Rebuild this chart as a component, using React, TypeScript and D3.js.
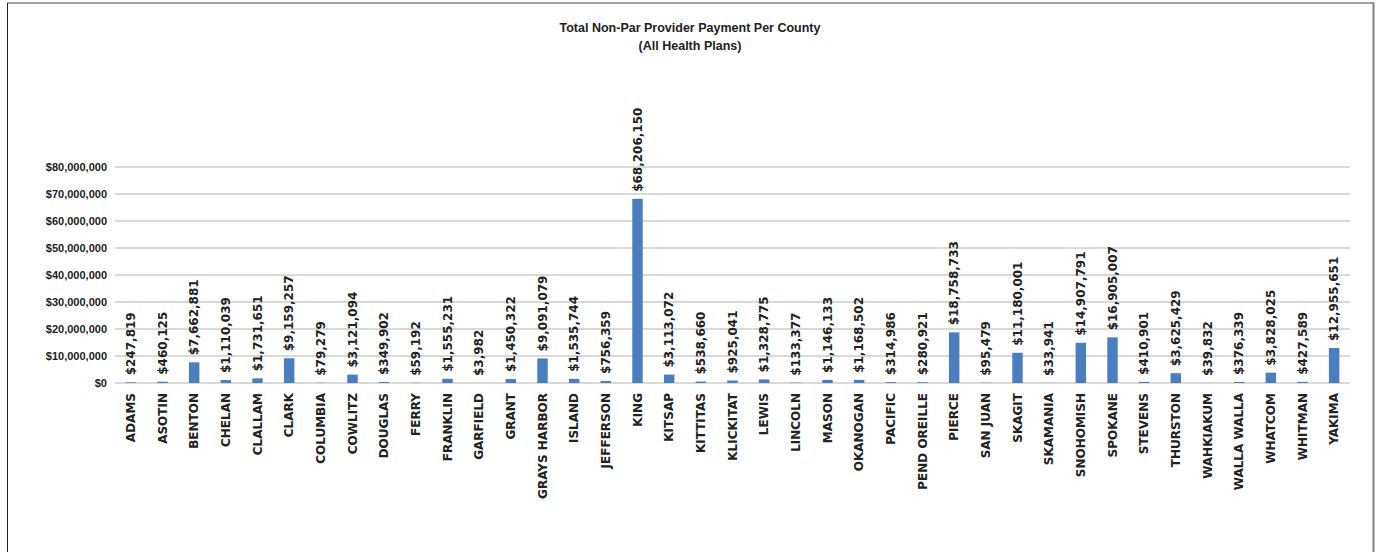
import React, { useEffect, useRef } from 'react';
import * as d3 from 'd3';

const counties = [
  'ADAMS', 'ASOTIN', 'BENTON', 'CHELAN', 'CLALLAM', 'CLARK', 'COLUMBIA', 'COWLITZ', 'DOUGLAS', 'FERRY',
  'FRANKLIN', 'GARFIELD', 'GRANT', 'GRAYS HARBOR', 'ISLAND', 'JEFFERSON', 'KING', 'KITSAP', 'KITTITAS', 'KLICKITAT',
  'LEWIS', 'LINCOLN', 'MASON', 'OKANOGAN', 'PACIFIC', 'PEND OREILLE', 'PIERCE', 'SAN JUAN', 'SKAGIT', 'SKAMANIA',
  'SNOHOMISH', 'SPOKANE', 'STEVENS', 'THURSTON', 'WAHKIAKUM', 'WALLA WALLA', 'WHATCOM', 'WHITMAN', 'YAKIMA',
];

const payments = [
  247819, 460125, 7662881, 1110039, 1731651, 9159257, 79279, 3121094, 349902, 59192,
  1555231, 3982, 1450322, 9091079, 1535744, 756359, 68206150, 3113072, 538660, 925041,
  1328775, 133377, 1146133, 1168502, 314986, 280921, 18758733, 95479, 11180001, 33941,
  14907791, 16905007, 410901, 3625429, 39832, 376339, 3828025, 427589, 12955651,
];

const yTicks = [0, 10000000, 20000000, 30000000, 40000000, 50000000, 60000000, 70000000, 80000000];

const titleLines = ['Total Non-Par Provider Payment Per County', '(All Health Plans)'];

const W = 1379;
const H = 552;

const App: React.FC = () => {
  const svgRef = useRef<SVGSVGElement>(null);

  useEffect(() => {
    if (!svgRef.current) return;
    const svg = d3.select(svgRef.current);
    svg.selectAll('*').remove();

    const left = 115;
    const right = 1350;
    const top = 167;
    const bottom = 383;

    const x = d3.scaleBand<string>().domain(counties).range([left, right]);
    const y = d3.scaleLinear().domain([0, 80000000]).range([bottom, top]);
    const fmt = d3.format('$,');

    svg.append('rect').attr('width', W).attr('height', H).attr('fill', '#fff');

    // frame of the pasted image
    svg.append('line').attr('x1', 7).attr('x2', 1374).attr('y1', 3).attr('y2', 3)
      .attr('stroke', '#808080').attr('stroke-width', 1.5);
    svg.append('line').attr('x1', 7.5).attr('x2', 7.5).attr('y1', 3).attr('y2', H)
      .attr('stroke', '#222').attr('stroke-width', 1);
    svg.append('line').attr('x1', 1373.5).attr('x2', 1373.5).attr('y1', 3).attr('y2', H)
      .attr('stroke', '#808080').attr('stroke-width', 2);

    // title
    svg.append('g').selectAll('text')
      .data(titleLines)
      .enter()
      .append('text')
      .attr('x', 690)
      .attr('y', (_, i) => 32 + i * 18)
      .attr('text-anchor', 'middle')
      .attr('fill', '#222')
      .style('font-family', '"Liberation Sans", Arial, sans-serif')
      .style('font-size', '12.5px')
      .style('font-weight', 'bold')
      .text(d => d);

    // grid
    svg.append('g').selectAll('line')
      .data(yTicks)
      .enter()
      .append('line')
      .attr('x1', left)
      .attr('x2', right)
      .attr('y1', d => y(d))
      .attr('y2', d => y(d))
      .attr('stroke', '#d9d9d9')
      .attr('stroke-width', 2);

    // y tick labels
    svg.append('g').selectAll('text')
      .data(yTicks)
      .enter()
      .append('text')
      .attr('x', 107)
      .attr('y', d => y(d))
      .attr('dy', '0.35em')
      .attr('text-anchor', 'end')
      .attr('fill', '#222')
      .style('font-family', '"Liberation Sans", Arial, sans-serif')
      .style('font-size', '11px')
      .style('font-weight', 'bold')
      .text(d => fmt(d));

    const barW = x.bandwidth() * 0.33;

    // bars
    svg.append('g').selectAll('rect')
      .data(payments)
      .enter()
      .append('rect')
      .attr('x', (_, i) => (x(counties[i]) || 0) + (x.bandwidth() - barW) / 2)
      .attr('y', d => y(d))
      .attr('width', barW)
      .attr('height', d => bottom - y(d))
      .attr('fill', '#4a7ebf');

    // value labels
    svg.append('g').selectAll('text')
      .data(payments)
      .enter()
      .append('text')
      .attr('transform', (d, i) => `translate(${(x(counties[i]) || 0) + x.bandwidth() / 2},${y(d) - 7}) rotate(-90)`)
      .attr('dy', '0.35em')
      .attr('text-anchor', 'start')
      .attr('fill', '#222')
      .style('font-family', '"DejaVu Sans", Verdana, sans-serif')
      .style('font-size', '12px')
      .style('font-weight', 'bold')
      .text(d => fmt(d));

    // category labels
    svg.append('g').selectAll('text')
      .data(counties)
      .enter()
      .append('text')
      .attr('transform', d => `translate(${(x(d) || 0) + x.bandwidth() / 2},393) rotate(-90)`)
      .attr('dy', '0.35em')
      .attr('text-anchor', 'end')
      .attr('fill', '#222')
      .style('font-family', '"DejaVu Sans", Verdana, sans-serif')
      .style('font-size', '12px')
      .style('font-weight', 'bold')
      .text(d => d);
  }, []);

  return (
    <svg
      ref={svgRef}
      width={W}
      height={H}
      style={{ position: 'absolute', left: 0, top: 0, display: 'block' }}
    />
  );
};

export default App;
